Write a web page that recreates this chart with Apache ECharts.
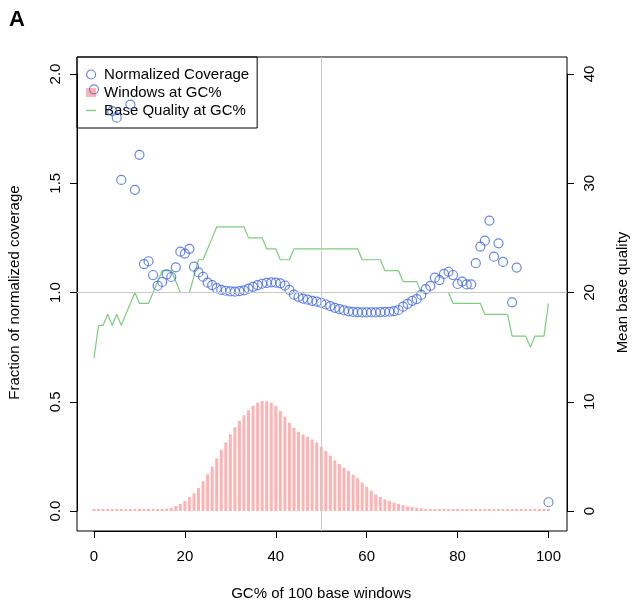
<!DOCTYPE html>
<html>
<head>
<meta charset="utf-8">
<script src="https://cdn.jsdelivr.net/npm/echarts@6/dist/echarts.min.js"></script>
<style>
html,body{margin:0;padding:0;background:#fff;}
#chart{width:632px;height:604px;}
</style>
</head>
<body>
<div id="chart"></div>
<script>
// ---- data ----
var gcPercent = [0,1,2,3,4,5,6,7,8,9,10,11,12,13,14,15,16,17,18,19,20,21,22,23,24,25,26,27,28,29,30,31,32,33,34,35,36,37,38,39,40,41,42,43,44,45,46,47,48,49,50,51,52,53,54,55,56,57,58,59,60,61,62,63,64,65,66,67,68,69,70,71,72,73,74,75,76,77,78,79,80,81,82,83,84,85,86,87,88,89,90,91,92,93,94,95,96,97,98,99,100];

var normalizedCoverage = [1.93,null,null,null,1.83,1.80,1.515,null,1.86,1.47,
  1.63,1.13,1.143,1.08,1.031,1.048,1.083,1.071,1.115,1.187,
  1.178,1.20,1.118,1.092,1.072,1.045,1.034,1.02,1.012,1.008,
  1.005,1.004,1.006,1.01,1.018,1.026,1.034,1.04,1.044,1.046,
  1.045,1.042,1.032,1.012,0.99,0.98,0.972,0.967,0.962,0.958,
  0.953,0.945,0.938,0.93,0.924,0.918,0.914,0.911,0.91,0.909,
  0.909,0.909,0.909,0.91,0.911,0.912,0.915,0.92,0.935,0.948,
  0.962,0.970,0.989,1.015,1.03,1.068,1.057,1.085,1.095,1.08,
  1.039,1.05,1.037,1.037,1.134,1.21,1.237,1.329,1.164,1.225,
  1.14,null,0.955,1.114,null,null,null,null,null,null,
  0.04];

var windowsAtGC = [0,0,0,0,0,0,0,0,0,0,
  0,0,0,0,0.005,0.008,0.011,0.015,0.023,0.032,
  0.046,0.063,0.081,0.105,0.136,0.168,0.204,0.241,0.279,0.314,
  0.351,0.383,0.412,0.438,0.461,0.481,0.496,0.503,0.503,0.496,
  0.481,0.458,0.432,0.404,0.381,0.363,0.350,0.339,0.327,0.314,
  0.294,0.275,0.253,0.232,0.215,0.198,0.183,0.166,0.150,0.130,
  0.111,0.093,0.076,0.064,0.053,0.046,0.038,0.032,0.026,0.021,
  0.018,0.015,0.012,0.009,0.008,0.006,0.005,0.004,0.003,0.003,
  0.002,0,0,0,0,0,0,0,0,0,
  0,0,0,0,0,0,0,0,0,0,
  0];

var baseQuality = [14,17,17,18,17,18,17,18,19,20,
  19,19,19,20,21,22,22,22,21,20,
  20,20,21.5,23,23,24,25,26,26,26,
  26,26,26,26,25,25,25,25,24,24,
  24,23,23,23,24,24,24,24,24,24,
  24,24,24,24,24,24,24,24,24,23,
  23,23,23,23,22,22,22,22,21,21,
  21,21,20,20,20,20,20,20,20,19,
  19,19,19,19,19,19,18,18,18,18,
  18,18,16,16,16,16,15,16,16,16,
  19];

var xTicks = [0,20,40,60,80,100];
var leftTicks = ['0.0','0.5','1.0','1.5','2.0'];
var rightTicks = ['0','10','20','30','40'];
var refLineX = 50;
var refLineY = 1.0;

// ---- styles ----
var FONT = 'Liberation Sans, Arial, Helvetica, sans-serif';
var FS = 15;
var BLUE = '#4169E1';
var PINK = '#FFB2B2';
var GREEN = '#7CCD7C';
var GREY = '#C8C8C8';

function pairs(vals){
  var out = [];
  for (var i = 0; i < gcPercent.length; i++) {
    out.push([gcPercent[i], vals[i] === null ? '-' : vals[i]]);
  }
  return out;
}

var axisCommon = {
  axisLine: {show: true, onZero: false, lineStyle: {color: '#000', width: 1}},
  axisTick: {show: true, length: 7, lineStyle: {color: '#000', width: 1}},
  splitLine: {show: false},
  nameTextStyle: {fontSize: FS, color: '#000', fontFamily: FONT}
};

var chart = echarts.init(document.getElementById('chart'), null, {renderer: 'canvas'});
chart.setOption({
  animation: false,
  backgroundColor: '#fff',
  title: {
    text: 'A', left: 9, top: 9, padding: 0,
    textStyle: {fontSize: 22, fontWeight: 'bold', color: '#000', fontFamily: FONT}
  },
  legend: {
    orient: 'vertical', left: 77, top: 57,
    padding: [10, 8, 10, 9], itemGap: 3, itemWidth: 10, itemHeight: 9,
    borderColor: '#000', borderWidth: 1, backgroundColor: 'transparent',
    selectedMode: false,
    textStyle: {fontSize: FS, color: '#000', fontFamily: FONT, padding: [0,0,0,3]},
    data: [
      {name: 'Normalized Coverage', icon: 'circle', itemStyle: {color: 'rgba(0,0,0,0)', borderColor: BLUE, borderWidth: 1.2}},
      {name: 'Windows at GC%', icon: 'rect', itemStyle: {color: PINK, borderWidth: 0}},
      {name: 'Base Quality at GC%', icon: 'path://M0,0H7V1H0Z', itemStyle: {color: GREEN, borderWidth: 0}}
    ]
  },
  grid: [
    {left: 94, right: 83.5, top: 74, bottom: 93, containLabel: false, outerBoundsMode: 'none'},
    {left: 77, right: 65, top: 57, bottom: 73, show: true, borderColor: '#000', borderWidth: 1,
     backgroundColor: 'transparent', containLabel: false, outerBoundsMode: 'none'}
  ],
  xAxis: [
    Object.assign({}, axisCommon, {
      gridIndex: 0, type: 'value', min: xTicks[0], max: xTicks[xTicks.length-1],
      interval: xTicks[1] - xTicks[0], offset: 20, position: 'bottom',
      axisLabel: {fontSize: FS, color: '#000', fontFamily: FONT, margin: 18},
      name: 'GC% of 100 base windows', nameLocation: 'middle', nameGap: 55
    }),
    {gridIndex: 1, type: 'value', min: -3.74, max: 104.07, show: false}
  ],
  yAxis: [
    Object.assign({}, axisCommon, {
      gridIndex: 0, type: 'value', min: 0, max: 2, interval: 0.5, position: 'left', offset: 17,
      axisLabel: {fontSize: FS, color: '#000', fontFamily: FONT, rotate: 90, margin: 14,
        formatter: function(v){ return leftTicks[Math.round(v / 0.5)]; }},
      name: 'Fraction of normalized coverage', nameLocation: 'middle', nameRotate: 90, nameGap: 55
    }),
    Object.assign({}, axisCommon, {
      gridIndex: 0, type: 'value', min: 0, max: 40, interval: 10, position: 'right', offset: 18.5,
      axisLabel: {fontSize: FS, color: '#000', fontFamily: FONT, rotate: 90, margin: 15,
        formatter: function(v){ return rightTicks[Math.round(v / 10)]; }},
      name: 'Mean base quality', nameLocation: 'middle', nameRotate: 90, nameGap: 48
    }),
    {gridIndex: 1, type: 'value', min: -0.0915, max: 2.078, show: false}
  ],
  series: [
    {
      name: 'Windows at GC%', type: 'bar', xAxisIndex: 0, yAxisIndex: 0,
      data: pairs(windowsAtGC), barWidth: 3, barMinHeight: 2, clip: false, silent: true, z: 1,
      itemStyle: {color: PINK}
    },
    {
      name: 'ref', type: 'line', xAxisIndex: 1, yAxisIndex: 2, data: [], silent: true, z: 2,
      markLine: {
        silent: true, symbol: 'none', animation: false,
        label: {show: false},
        lineStyle: {color: GREY, width: 1, type: 'solid'},
        data: [{xAxis: refLineX}, {yAxis: refLineY}]
      }
    },
    {
      name: 'Base Quality at GC%', type: 'line', xAxisIndex: 0, yAxisIndex: 1,
      data: pairs(baseQuality), showSymbol: false, symbol: 'none', clip: false, silent: true, z: 3,
      lineStyle: {color: GREEN, width: 1.2}, itemStyle: {color: GREEN}
    },
    {
      name: 'Normalized Coverage', type: 'scatter', xAxisIndex: 0, yAxisIndex: 0,
      data: pairs(normalizedCoverage), symbol: 'circle', symbolSize: 9, clip: false, silent: true, z: 4,
      itemStyle: {color: 'rgba(0,0,0,0)', borderColor: BLUE, borderWidth: 1.2}
    }
  ]
});
</script>
</body>
</html>
